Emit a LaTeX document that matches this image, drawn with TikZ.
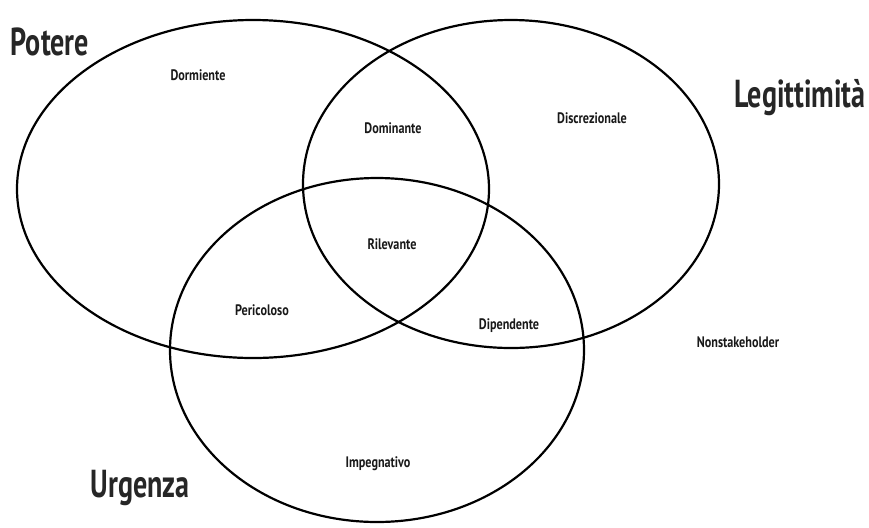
\documentclass[tikz,border=0pt]{standalone}
\usepackage{fontspec}
\setmainfont{PT Sans}
\usepackage{graphicx}
\begin{document}
\begin{tikzpicture}[x=0.5pt,y=-0.5pt,
  set/.style={draw=black,line width=1.1pt},
  big/.style={font=\fontsize{19.5}{20}\selectfont\bfseries,text=black!85,inner sep=0pt},
  small/.style={font=\fontsize{7.6}{8}\selectfont\bfseries,text=black!90,inner sep=0pt}]
\useasboundingbox (0,0) rectangle (869,527);
\fill[white] (0,0) rectangle (869,527);
% the three sets
\draw[set] (253,189) ellipse [x radius=236, y radius=169];
\draw[set] (511,184) ellipse [x radius=208, y radius=164];
\draw[set] (377,350) ellipse [x radius=207, y radius=172];
% set names
\node[big] (potere) at (50,42) {\scalebox{0.72}[1]{Potere}};
\node[big] (legit) at (800,98) {\scalebox{0.72}[1]{Legittimità}};
\node[big] (urg) at (140,488) {\scalebox{0.72}[1]{Urgenza}};
% regions
\node[small] (dorm) at (198,75) {\scalebox{0.8}[1]{Dormiente}};
\node[small] (domi) at (393,128) {\scalebox{0.8}[1]{Dominante}};
\node[small] (disc) at (592,118) {\scalebox{0.8}[1]{Discrezionale}};
\node[small] (rile) at (392,244) {\scalebox{0.8}[1]{Rilevante}};
\node[small] (peri) at (262,310) {\scalebox{0.8}[1]{Pericoloso}};
\node[small] (dipe) at (509,326) {\scalebox{0.8}[1]{Dipendente}};
\node[small] (nons) at (738,342) {\scalebox{0.8}[1]{Nonstakeholder}};
\node[small] (impe) at (378,464) {\scalebox{0.8}[1]{Impegnativo}};
\end{tikzpicture}
\end{document}
